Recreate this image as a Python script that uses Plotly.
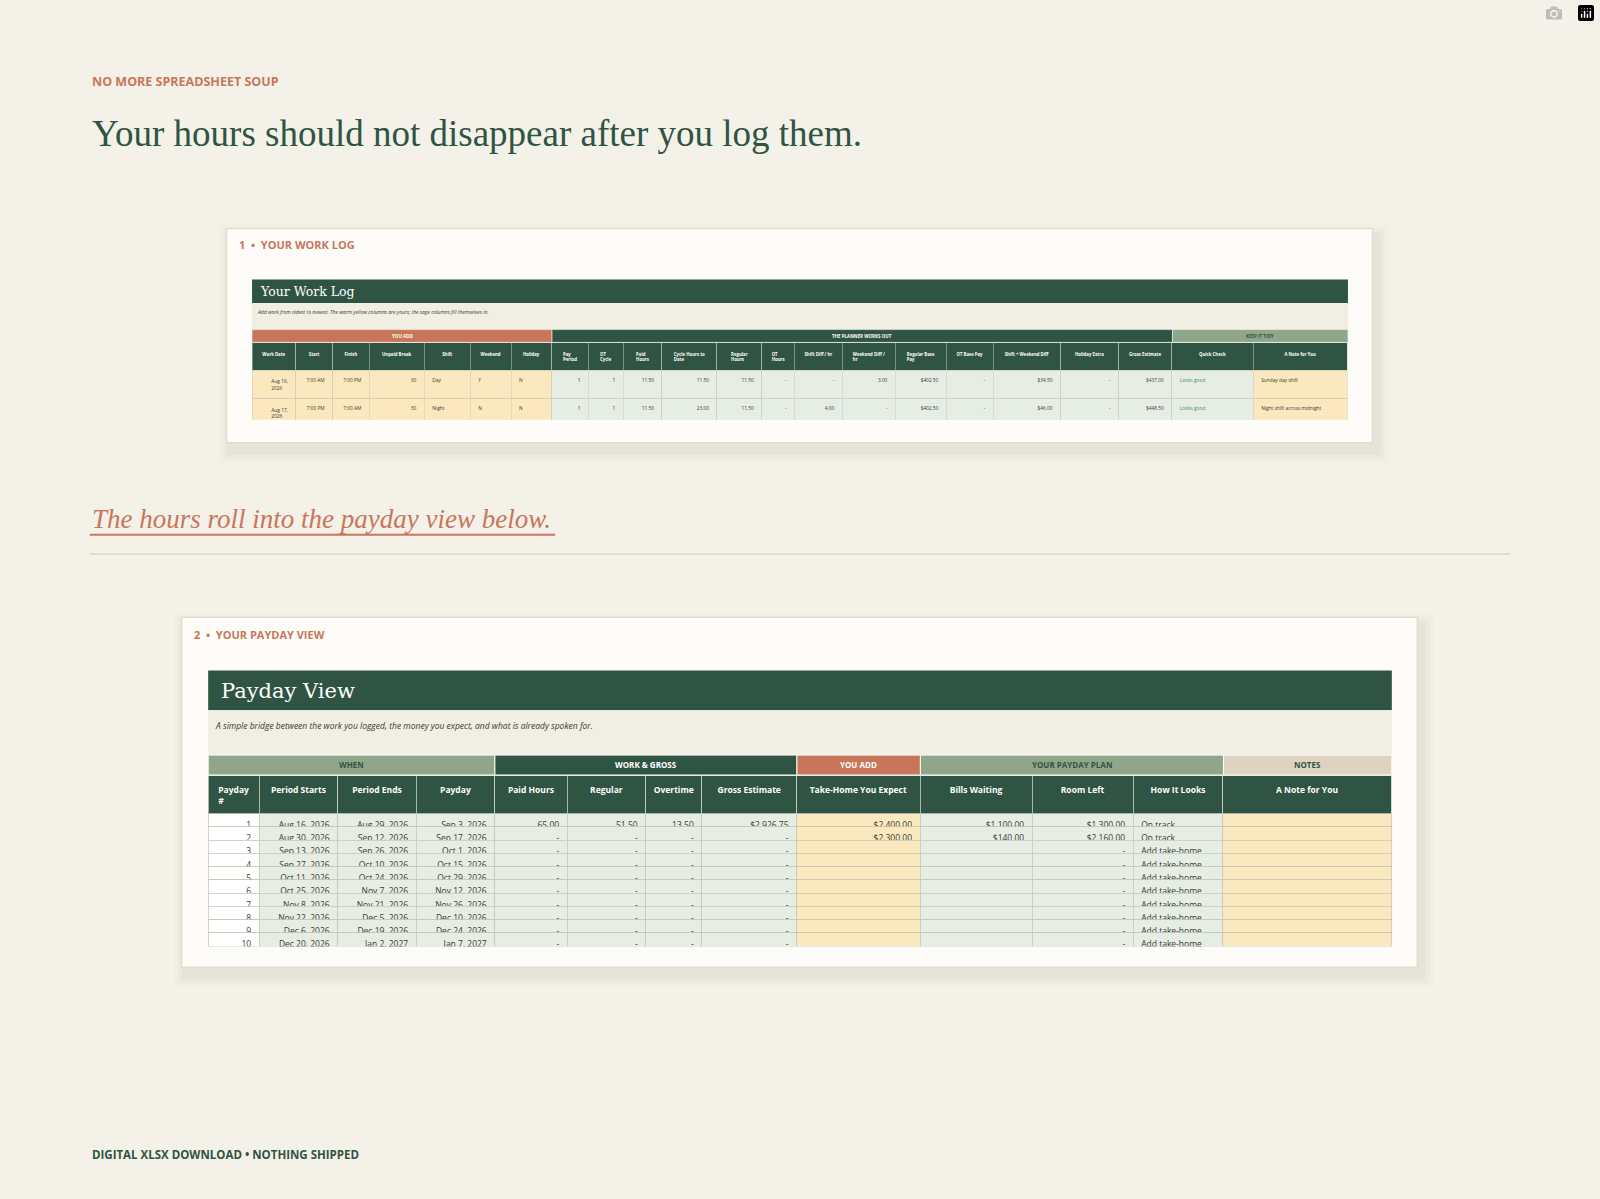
import plotly.graph_objects as go

S = 1600/1568
W, H = 1600, 1199
def fx(x): return x/1568
def fy(y): return 1 - y/1175

# ---------- Work log data ----------
wl_groups = ["YOU ADD", "THE PLANNER WORKS OUT", "KEEP IT TIDY"]
wl_cols = ["Work Date","Start","Finish","Unpaid Break","Shift","Weekend","Holiday","Pay Period","OT Cycle",
           "Paid Hours","Cycle Hours to Date","Regular Hours","OT Hours","Shift Diff / hr","Weekend Diff / hr",
           "Regular Base Pay","OT Base Pay","Shift + Weekend Diff","Holiday Extra","Gross Estimate","Quick Check","A Note for You"]
wl_dates = ["Aug 16, 2026","Aug 17, 2026","Aug 19, 2026","Aug 21, 2026","Aug 22, 2026","Aug 23, 2026",""]
wl_start = ["7:00 AM","7:00 PM","3:00 PM","7:00 AM","7:00 PM","7:00 AM",""]
wl_finish = ["7:00 PM","7:00 AM","11:00 PM","7:00 PM","7:00 AM","7:00 PM",""]
wl_break = ["30","30","30","30","30","30",""]
wl_shift = ["Day","Night","Evening","Day","Night","Day",""]
wl_weekend = ["Y","N","N","N","Y","Y",""]
wl_holiday = ["N","N","N","N","N","Y",""]
wl_period = ["1","1","1","1","1","1",""]
wl_cycle = ["1","1","1","1","1","2",""]
wl_paid = ["11.50","11.50","7.50","11.50","11.50","11.50",""]
wl_cycle_hrs = ["11.50","23.00","30.50","42.00","53.50","11.50",""]
wl_regular = ["11.50","11.50","7.50","9.50","-","11.50",""]
wl_ot = ["-","-","-","2.00","11.50","-",""]
wl_sdiff = ["-","4.00","2.50","-","4.00","-","-"]
wl_wdiff = ["3.00","-","-","-","3.00","3.00","-"]
wl_regpay = ["$402.50","$402.50","$262.50","$332.50","-","$402.50",""]
wl_otpay = ["-","-","-","$105.00","$603.75","-",""]
wl_swdiff = ["$34.50","$46.00","$18.75","-","$80.50","$34.50",""]
wl_holextra = ["-","-","-","-","-","$201.25",""]
wl_gross = ["$437.00","$448.50","$281.25","$437.50","$684.25","$638.25",""]
wl_check = ["Looks good"]*6 + [""]
wl_note = ["Sunday day shift","Night shift across midnight","Evening shift","Crosses OT threshold",
           "Weekend night; OT starts here","Holiday shift in a new OT cycle",""]

# ---------- Payday data ----------
pd_groups = ["WHEN","WORK & GROSS","YOU ADD","YOUR PAYDAY PLAN","NOTES"]
pd_cols = ["Payday #","Period Starts","Period Ends","Payday","Paid Hours","Regular","Overtime","Gross Estimate",
           "Take-Home You Expect","Bills Waiting","Room Left","How It Looks","A Note for You"]
pd_num = [str(i) for i in range(1, 11)]
pd_start = ["Aug 16, 2026","Aug 30, 2026","Sep 13, 2026","Sep 27, 2026","Oct 11, 2026","Oct 25, 2026",
            "Nov 8, 2026","Nov 22, 2026","Dec 6, 2026","Dec 20, 2026"]
pd_end = ["Aug 29, 2026","Sep 12, 2026","Sep 26, 2026","Oct 10, 2026","Oct 24, 2026","Nov 7, 2026",
          "Nov 21, 2026","Dec 5, 2026","Dec 19, 2026","Jan 2, 2027"]
pd_pay = ["Sep 3, 2026","Sep 17, 2026","Oct 1, 2026","Oct 15, 2026","Oct 29, 2026","Nov 12, 2026",
          "Nov 26, 2026","Dec 10, 2026","Dec 24, 2026","Jan 7, 2027"]
pd_paid = ["65.00"] + ["-"]*9
pd_reg = ["51.50"] + ["-"]*9
pd_ot = ["13.50"] + ["-"]*9
pd_gross = ["$2,926.75"] + ["-"]*9
pd_take = ["$2,400.00","$2,300.00"] + [""]*8
pd_bills = ["$1,100.00","$140.00"] + [""]*8
pd_room = ["$1,300.00","$2,160.00"] + ["-"]*8
pd_looks = ["On track","On track"] + ["Add take-home"]*8
pd_note = [""]*10

BG = "#f4f1e8"; CARD = "#fdfcf8"; DG = "#2f5443"; OR = "#c8765a"; SAGE = "#8fa68a"
YEL = "#fbe8bf"; LG = "#e5ede4"; TAN = "#ddd3c0"; INK = "#3a3a30"; GRID = "#c8c9b6"

fig = go.Figure()
shapes, ann = [], []

def rect(x0, y0, x1, y1, fill, line=None, lw=0, opacity=1, layer="below"):
    shapes.append(dict(type="rect", xref="paper", yref="paper", x0=fx(x0), x1=fx(x1), y0=fy(y1), y1=fy(y0),
                       fillcolor=fill, opacity=opacity, line=dict(color=line or fill, width=lw), layer=layer))

def text(x, y, s, size, color, family="Open Sans", xanchor="left", yanchor="middle"):
    ann.append(dict(xref="paper", yref="paper", x=fx(x), y=fy(y), text=s, showarrow=False,
                    xanchor=xanchor, yanchor=yanchor, font=dict(size=size, color=color, family=family)))

# cards with soft shadows
for (x0, y0, x1, y1) in [(222, 224, 1345, 434), (178, 605, 1389, 948)]:
    for k, op in [(12, 0.02), (8, 0.03), (4, 0.04)]:
        rect(x0 - k + 4, y0 - k + 8, x1 + k + 4, y1 + k + 8, "#6b6450", opacity=op)
    rect(x0, y0, x1, y1, CARD, line="#e6ddc8", lw=1.5)

# header texts
text(88, 80, "<b>NO MORE SPREADSHEET SOUP</b>", 12.5, OR)
text(88, 131, "Your hours should not disappear after you log them.", 37, DG, family="Liberation Serif")
text(88, 509, "<i>The hours roll into the payday view below.</i>", 27, OR, family="Liberation Serif")
shapes.append(dict(type="line", xref="paper", yref="paper", x0=fx(88), x1=fx(544), y0=fy(524), y1=fy(524),
                   line=dict(color=OR, width=2)))
shapes.append(dict(type="line", xref="paper", yref="paper", x0=fx(88), x1=fx(1480), y0=fy(543), y1=fy(543),
                   line=dict(color="#ddd6c6", width=1.5)))
text(88, 1131, "<b>DIGITAL XLSX DOWNLOAD • NOTHING SHIPPED</b>", 11.5, DG)
text(232, 240, "<b>1  •  YOUR WORK LOG</b>", 11, OR)
text(188, 622, "<b>2  •  YOUR PAYDAY VIEW</b>", 11, OR)

# ---- Work log sheet frame ----
rect(247, 274, 1321, 297, DG)
text(253, 286, "Your Work Log", 12.5, "white", family="DejaVu Serif")
rect(247, 297, 1321, 323, "#f1eee4")
text(250, 306, "<i>Add work from oldest to newest. The warm yellow columns are yours; the sage columns fill themselves in.</i>", 5, INK)

wl_x = [247,290,326,362,416,461,501,541,577,611,649,703,747,779,826,878,928,974,1040,1097,1149,1229,1321]
wl_w = [wl_x[i+1]-wl_x[i] for i in range(len(wl_x)-1)]
# group header band (shapes + labels)
for (a, b, g, fc, tc) in [(0, 7, wl_groups[0], OR, "white"), (7, 20, wl_groups[1], DG, "white"), (20, 22, wl_groups[2], SAGE, DG)]:
    rect(wl_x[a], 323, wl_x[b], 335.5, fc, line=CARD, lw=0.5, layer="above")
    text((wl_x[a] + wl_x[b]) / 2, 329, f"<b>{g}</b>", 4.5, tc, xanchor="center")

wl_vals = [wl_dates, wl_start, wl_finish, wl_break, wl_shift, wl_weekend, wl_holiday, wl_period, wl_cycle,
           wl_paid, wl_cycle_hrs, wl_regular, wl_ot, wl_sdiff, wl_wdiff, wl_regpay, wl_otpay, wl_swdiff,
           wl_holextra, wl_gross, wl_check, wl_note]
nr = len(wl_dates)
wl_fill = []
for i in range(len(wl_cols)):
    if i < 7 or i == 21:
        wl_fill.append([YEL]*nr)
    elif i == 20:
        wl_fill.append([LG]*(nr-1) + ["#f6d2c8"])
    else:
        wl_fill.append([LG]*nr)
wl_align = ["right","right","right","right","left","left","left"] + ["right"]*13 + ["left","left"]
wl_fc = [[INK]*nr for _ in wl_cols]
wl_fc[20] = ["#4f8a5f"]*nr

fig.add_trace(go.Table(domain=dict(x=[fx(247), fx(1321)], y=[fy(412), fy(336)]), columnwidth=wl_w,
    header=dict(values=[f"<b>{c}</b>" for c in wl_cols], fill_color=DG, height=19*S,
                font=dict(size=4.3, color="white"), line=dict(color="#c9cfc4", width=0.5), align="center"),
    cells=dict(values=wl_vals, fill_color=wl_fill, height=8*S, align=wl_align,
               font=dict(size=4.8, color=wl_fc), line=dict(color=GRID, width=0.5))))

# ---- Payday sheet frame ----
rect(204, 657, 1364, 696, DG)
text(215, 677, "Payday View", 21, "white", family="DejaVu Serif")
rect(204, 696, 1364, 740, "#f1eee4")
text(209, 711, "<i>A simple bridge between the work you logged, the money you expect, and what is already spoken for.</i>", 8.5, INK)

pd_x = [204,254,331,408,485,556,633,688,781,902,1012,1111,1199,1364]
pd_w = [pd_x[i+1]-pd_x[i] for i in range(len(pd_x)-1)]
for (a, b, g, fc, tc) in [(0, 4, pd_groups[0], SAGE, DG), (4, 8, pd_groups[1], DG, "white"), (8, 9, pd_groups[2], OR, "white"),
                          (9, 12, pd_groups[3], SAGE, DG), (12, 13, pd_groups[4], TAN, DG)]:
    rect(pd_x[a], 740, pd_x[b], 759.5, fc, line=CARD, lw=1, layer="above")
    text((pd_x[a] + pd_x[b]) / 2, 749.5, f"<b>{g}</b>", 8, tc, xanchor="center")

pd_vals = [pd_num, pd_start, pd_end, pd_pay, pd_paid, pd_reg, pd_ot, pd_gross, pd_take, pd_bills, pd_room, pd_looks, pd_note]
n2 = len(pd_num)
pd_fill = [["white"]*n2] + [[LG]*n2 for _ in range(7)] + [[YEL]*n2] + [[LG]*n2 for _ in range(3)] + [[YEL]*n2]
pd_align = ["right"]*11 + ["left","left"]
fig.add_trace(go.Table(domain=dict(x=[fx(204), fx(1364)], y=[fy(928), fy(760)]), columnwidth=pd_w,
    header=dict(values=[f"<b>{c}</b>" for c in pd_cols], fill_color=DG, height=33*S,
                font=dict(size=8.5, color="white"), line=dict(color="#c9cfc4", width=0.8), align="center"),
    cells=dict(values=pd_vals, fill_color=pd_fill, height=13*S, align=pd_align,
               font=dict(size=8.5, color=INK), line=dict(color=GRID, width=0.8))))

fig.update_layout(width=W, height=H, paper_bgcolor=BG, plot_bgcolor=BG,
                  margin=dict(l=0, r=0, t=0, b=0), shapes=shapes, annotations=ann, showlegend=False)
fig.write_html("out.html", post_script="document.body.style.margin='0';document.body.style.background='#f4f1e8';")
